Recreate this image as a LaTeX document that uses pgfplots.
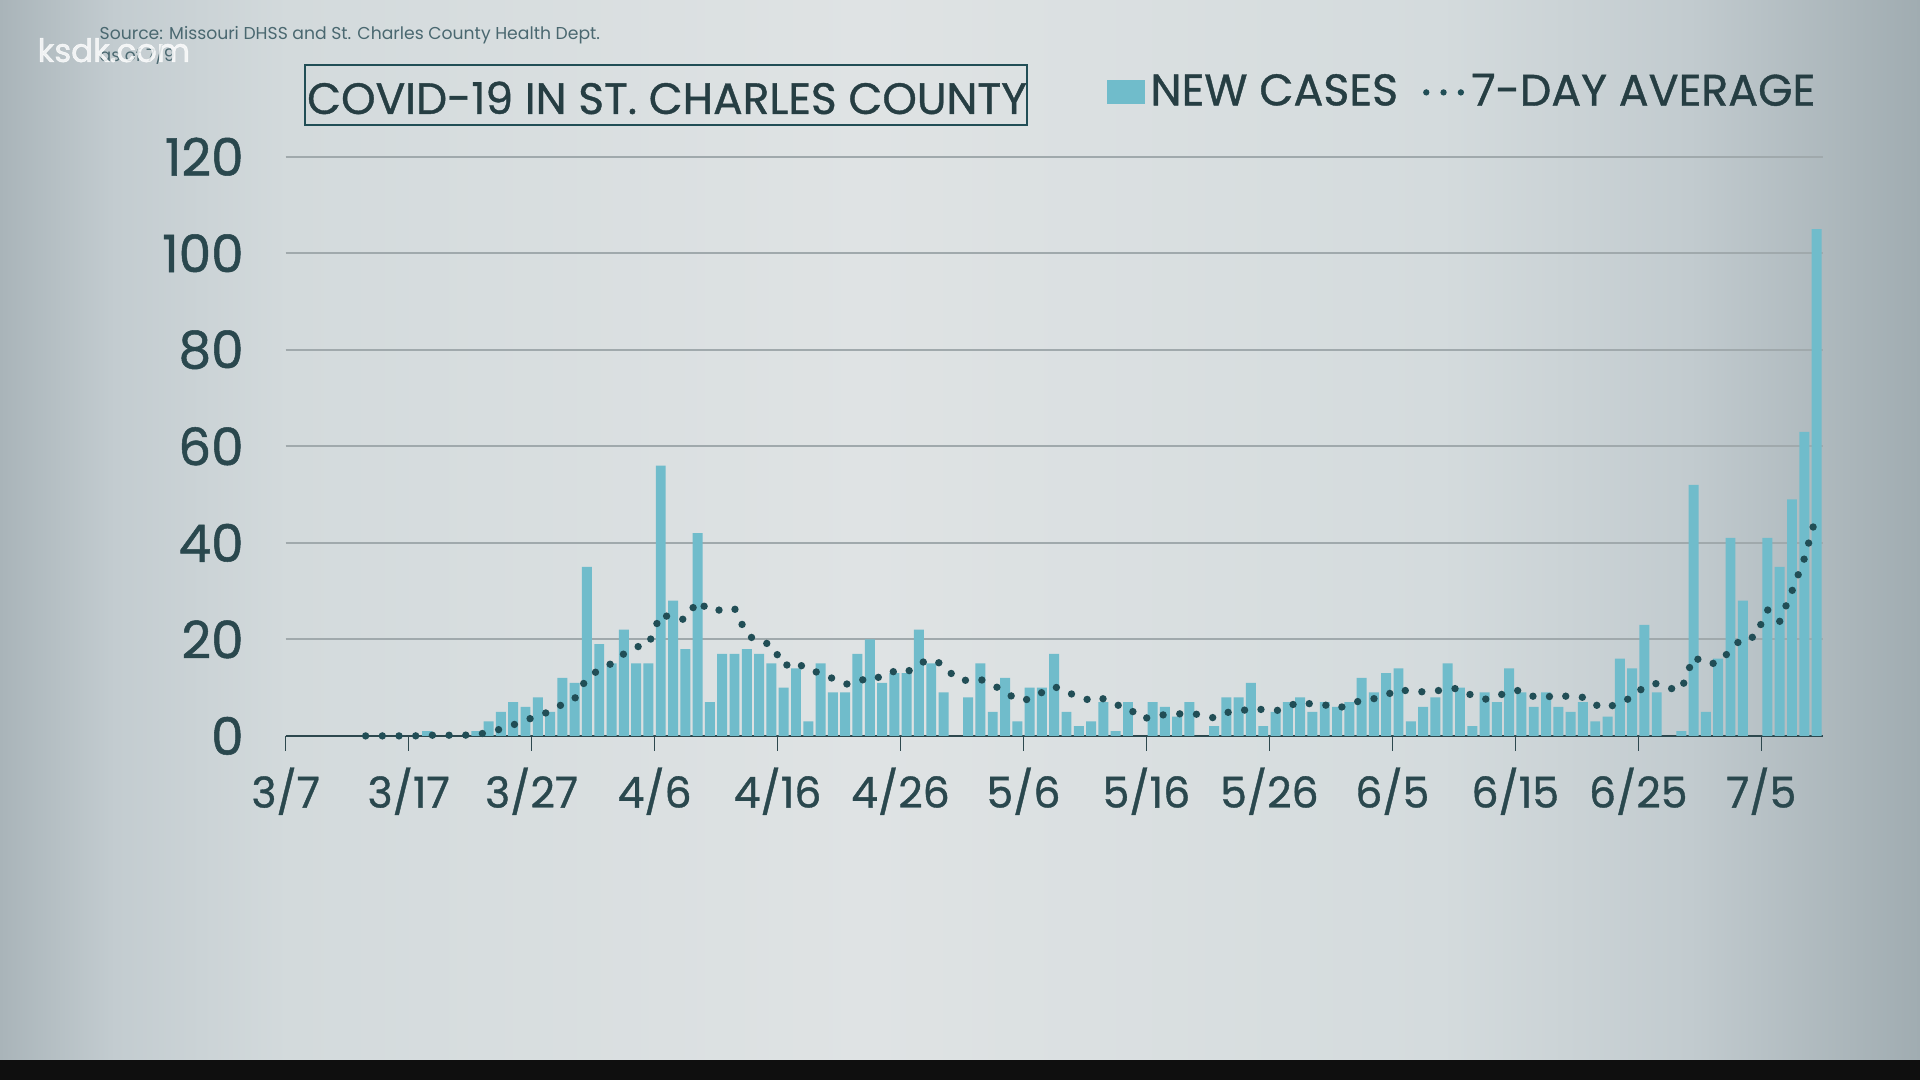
\documentclass[border=0pt]{standalone}
\usepackage{pgfplots}
\pgfplotsset{compat=1.18}
\usepackage{pgfplotstable}
\usepackage{fontspec}
\setmainfont{Poppins}[FakeBold=0.9]
\newfontfamily\srcfont{Poppins}
\newfontfamily\tabfont{Poppins}[FakeBold=1.0, Numbers=Monospaced]
\newfontfamily\wmfont{Poppins}[FakeBold=1.5]

\definecolor{barcol}{RGB}{112,188,203}
\definecolor{dotcol}{RGB}{33,78,86}
\definecolor{textcol}{RGB}{38,62,67}
\definecolor{tickcol}{RGB}{42,72,78}
\definecolor{axiscol}{RGB}{45,72,78}
\definecolor{gridcol}{RGB}{160,169,172}
\definecolor{srccol}{RGB}{74,104,112}
\definecolor{bgA}{HTML}{A9B4B9}
\definecolor{bgB}{HTML}{C3CCD0}
\definecolor{bgC}{HTML}{D3DADC}
\definecolor{bgD}{HTML}{DFE3E4}
\definecolor{bgE}{HTML}{D4DBDD}
\definecolor{bgF}{HTML}{C2CBCF}
\definecolor{bgG}{HTML}{A0ACB1}

\pgfdeclarehorizontalshading{bgh}{100bp}{color(0bp)=(bgA); color(25bp)=(bgA); color(28bp)=(bgB); color(32.5bp)=(bgC); color(47.5bp)=(bgD); color(62.5bp)=(bgE); color(69bp)=(bgF); color(75bp)=(bgG); color(100bp)=(bgG)}

\pgfplotstableread{
x y
11.5 1
15.5 1
16.5 3
17.5 5
18.5 7
19.5 6
20.5 8
21.5 5
22.5 12
23.5 11
24.5 35
25.5 19
26.5 15
27.5 22
28.5 15
29.5 15
30.5 56
31.5 28
32.5 18
33.5 42
34.5 7
35.5 17
36.5 17
37.5 18
38.5 17
39.5 15
40.5 10
41.5 14
42.5 3
43.5 15
44.5 9
45.5 9
46.5 17
47.5 20
48.5 11
49.5 13
50.5 13
51.5 22
52.5 15
53.5 9
55.5 8
56.5 15
57.5 5
58.5 12
59.5 3
60.5 10
61.5 10
62.5 17
63.5 5
64.5 2
65.5 3
66.5 7
67.5 1
68.5 7
70.5 7
71.5 6
72.5 4
73.5 7
75.5 2
76.5 8
77.5 8
78.5 11
79.5 2
80.5 5
81.5 7
82.5 8
83.5 5
84.5 7
85.5 6
86.5 7
87.5 12
88.5 9
89.5 13
90.5 14
91.5 3
92.5 6
93.5 8
94.5 15
95.5 10
96.5 2
97.5 9
98.5 7
99.5 14
100.5 9
101.5 6
102.5 9
103.5 6
104.5 5
105.5 7
106.5 3
107.5 4
108.5 16
109.5 14
110.5 23
111.5 9
113.5 1
114.5 52
115.5 5
116.5 16
117.5 41
118.5 28
120.5 41
121.5 35
122.5 49
123.5 63
124.5 105
}\newcases

\pgfplotstableread{
x y
6.5 0
7.5 0
8.5 0
9.5 0
10.5 0
11.5 0.14
12.5 0.14
13.5 0.14
14.5 0.14
15.5 0.29
16.5 0.71
17.5 1.43
18.5 2.29
19.5 3.14
20.5 4.29
21.5 5.00
22.5 6.57
23.5 7.71
24.5 12.00
25.5 13.71
26.5 15.00
27.5 17.00
28.5 18.43
29.5 18.86
30.5 25.29
31.5 24.29
32.5 24.14
33.5 28.00
34.5 25.86
35.5 26.14
36.5 26.43
37.5 21.00
38.5 19.43
39.5 19.00
40.5 14.43
41.5 15.43
42.5 13.43
43.5 13.14
44.5 11.86
45.5 10.71
46.5 11.00
47.5 12.43
48.5 12.00
49.5 13.43
50.5 13.14
51.5 15.00
52.5 15.86
53.5 14.71
54.5 11.86
55.5 11.43
56.5 11.71
57.5 10.57
58.5 9.14
59.5 7.43
60.5 7.57
61.5 9.00
62.5 10.29
63.5 8.86
64.5 8.43
65.5 7.14
66.5 7.71
67.5 6.43
68.5 6.00
69.5 3.57
70.5 3.86
71.5 4.43
72.5 4.57
73.5 4.57
74.5 4.43
75.5 3.71
76.5 4.86
77.5 5.00
78.5 5.71
79.5 5.43
80.5 5.14
81.5 6.14
82.5 7.00
83.5 6.57
84.5 6.43
85.5 5.71
86.5 6.43
87.5 7.43
88.5 7.71
89.5 8.43
90.5 9.71
91.5 9.14
92.5 9.14
93.5 9.29
94.5 9.71
95.5 9.86
96.5 8.29
97.5 7.57
98.5 8.14
99.5 9.29
100.5 9.43
101.5 8.14
102.5 8.00
103.5 8.57
104.5 8.00
105.5 8.00
106.5 6.43
107.5 5.71
108.5 7.14
109.5 7.86
110.5 10.29
111.5 10.86
112.5 9.86
113.5 9.57
114.5 16.43
115.5 14.86
116.5 15.14
117.5 17.71
118.5 20.43
119.5 20.43
120.5 26.14
121.5 23.71
122.5 30.00
123.5 36.71
124.5 45.86
}\avgseven

\begin{document}
\begin{tikzpicture}
\shade[shading=bgh] (0,0) rectangle (19.2,10.8);
\fill[black!94] (0,0) rectangle (19.2,0.2);

\begin{axis}[
  scale only axis, width=15.37cm, height=5.792cm,
  at={(2.857cm,3.441cm)}, anchor=south west,
  xmin=0, xmax=125, ymin=0, ymax=120,
  axis x line*=bottom, axis y line*=left,
  x axis line style={draw=axiscol, line width=0.6pt, -},
  y axis line style={draw=none},
  xtick={0,10,...,120},
  xticklabels={3/7,3/17,3/27,4/6,4/16,4/26,5/6,5/16,5/26,6/5,6/15,6/25,7/5},
  ytick={0,20,...,120},
  ymajorgrids, grid style={draw=gridcol, line width=0.55pt},
  xtick style={draw=axiscol, line width=0.4pt},
  ytick style={draw=none},
  tick align=outside, major tick length=0.147cm,
  tick label style={text=tickcol},
  xticklabel style={anchor=base, yshift=-0.57cm, font=\fontsize{12.1}{14}\selectfont},
  yticklabel style={anchor=east, inner sep=0pt, xshift=-0.267cm, font=\tabfont\fontsize{14.7}{17}\selectfont},
  /pgf/number format/assume math mode=true,
  clip=false,
  legend style={draw=none, fill=none, inner sep=0pt,
    at={(0.5342,1.111)}, anchor=west,
    font=\fontsize{12.6}{14}\selectfont, text=textcol,
    nodes={inner xsep=0.05cm, inner ysep=0.03cm},
    /tikz/every even column/.append style={column sep=0.2cm}},
  legend columns=-1,
]
\addplot[ybar, bar width=0.81, bar shift=0pt, fill=barcol, draw=none,
  legend image code/.code={\fill[barcol] (0cm,-0.12cm) rectangle (0.38cm,0.12cm);}]
  table[x=x, y=y] {\newcases};
\addlegendentry{NEW CASES}
\addplot[dotcol, line width=2.1pt, line cap=round, dash pattern=on 0pt off 4.75pt, no marks,
  legend image code/.code={\draw[dotcol, line width=1.8pt, line cap=round, dash pattern=on 0pt off 0.173cm] (0.03cm,0cm) -- (0.40cm,0cm);}]
  table[x=x, y=y] {\avgseven};
\addlegendentry{7-DAY AVERAGE}
\end{axis}

\draw[draw=dotcol, line width=0.8pt] (3.05,10.15) rectangle (10.27,9.55);
\node[anchor=base, inner sep=0pt, text=textcol, font=\fontsize{12.5}{14}\selectfont] at (6.67,9.66) {COVID-19 IN ST. CHARLES COUNTY};

\node[anchor=base west, inner sep=0pt, text=srccol, font=\srcfont\fontsize{4.9}{6}\selectfont] at (0.99,10.407) {Source: Missouri DHSS and St. Charles County Health Dept.};
\node[anchor=base west, inner sep=0pt, text=srccol, font=\srcfont\fontsize{4.9}{6}\selectfont] at (0.99,10.18) {as of 7/9};
\node[anchor=base west, inner sep=0pt, text=white, opacity=0.8, font=\wmfont\fontsize{9.2}{11}\selectfont] at (0.37,10.18) {ksdk.com};

\pgfresetboundingbox
\useasboundingbox (0,0) rectangle (19.2,10.8);
\end{tikzpicture}
\end{document}
